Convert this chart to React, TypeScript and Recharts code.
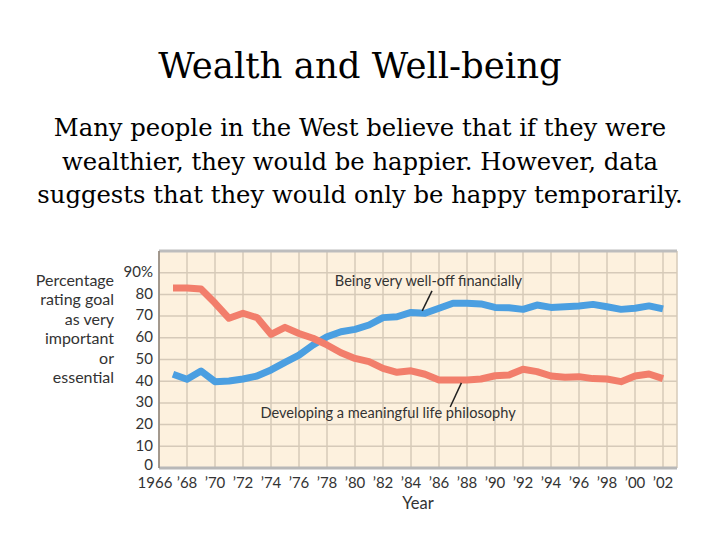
import React from 'react';
import { LineChart, Line, XAxis, YAxis, CartesianGrid, ReferenceLine } from 'recharts';

const years = [1967, 1968, 1969, 1970, 1971, 1972, 1973, 1974, 1975, 1976, 1977, 1978, 1979, 1980, 1981, 1982, 1983, 1984, 1985, 1986, 1987, 1988, 1989, 1990, 1991, 1992, 1993, 1994, 1995, 1996, 1997, 1998, 1999, 2000, 2001, 2002];
const wellOff = [43.2, 40.9, 44.7, 39.8, 40.1, 41, 42.4, 45.2, 48.7, 52, 56.7, 60.5, 62.8, 63.9, 65.9, 69.3, 69.7, 71.7, 71.3, 73.6, 75.9, 75.9, 75.6, 74, 73.8, 73.1, 75.1, 74, 74.3, 74.7, 75.4, 74.3, 73.1, 73.6, 74.7, 73.3];
const philosophy = [83, 83, 82.5, 76, 69, 71.3, 69.3, 61.6, 64.8, 62, 59.8, 56.7, 53.1, 50.5, 49, 45.9, 44.1, 44.8, 43.2, 40.6, 40.6, 40.6, 41, 42.5, 42.9, 45.5, 44.4, 42.4, 41.8, 42.1, 41.2, 41, 39.8, 42.4, 43.3, 41.2];
const xTicks = [1966, 1968, 1970, 1972, 1974, 1976, 1978, 1980, 1982, 1984, 1986, 1988, 1990, 1992, 1994, 1996, 1998, 2000, 2002];
const yTicks = [0, 10, 20, 30, 40, 50, 60, 70, 80, 90];
const yLabelLines = ['Percentage', 'rating goal', 'as very', 'important', 'or', 'essential'];
const titleText = 'Wealth and Well-being';
const bodyLines = [
  'Many people in the West believe that if they were',
  'wealthier, they would be happier. However, data',
  'suggests that they would only be happy temporarily.',
];
const wellOffLabel = 'Being very well-off financially';
const philosophyLabel = 'Developing a meaningful life philosophy';

const data = years.map((year, i) => ({ year, wellOff: wellOff[i], philosophy: philosophy[i] }));

const SANS = 'Lato, "Open Sans", sans-serif';
const SERIF = '"DejaVu Serif", "Liberation Serif", serif';

const XTick = (props: any) => {
  const { x, y, payload } = props;
  const v = payload.value as number;
  const label = v === 1966 ? '1966' : '\u2019' + String(v).slice(2);
  return (
    <text x={v === 1966 ? x - 4 : x} y={y} dy="0.71em" textAnchor="middle" fill="#333" fontSize={15} fontFamily={SANS}>
      {label}
    </text>
  );
};

const YTick = (props: any) => {
  const { x, y, payload } = props;
  const v = payload.value as number;
  const label = v === 90 ? '90%' : String(v);
  return (
    <text x={x} y={v === 0 ? y - 3 : y - 1} dy="0.355em" textAnchor="end" fill="#333" fontSize={15} fontFamily={SANS}>
      {label}
    </text>
  );
};

export default function App() {
  return (
    <div style={{ position: 'absolute', left: 0, top: 0, width: 720, height: 540, background: '#ffffff', overflow: 'hidden' }}>
      <div style={{ position: 'absolute', left: 0, top: 48, width: 720, textAlign: 'center', fontFamily: SERIF, fontSize: 35.5, lineHeight: '35.5px', color: '#000', whiteSpace: 'nowrap' }}>
        {titleText}
      </div>
      <div style={{ position: 'absolute', left: 0, top: 111, width: 720, textAlign: 'center', fontFamily: SERIF, fontSize: 24.3, lineHeight: '33.5px', color: '#000', whiteSpace: 'nowrap' }}>
        {bodyLines.map((l) => (
          <div key={l}>{l}</div>
        ))}
      </div>
      <div style={{ position: 'absolute', left: 0, top: 270, width: 114, textAlign: 'right', fontFamily: SANS, fontSize: 16, lineHeight: '19.4px', color: '#333' }}>
        {yLabelLines.map((l) => (
          <div key={l}>{l}</div>
        ))}
      </div>
      <div style={{ position: 'absolute', left: 0, top: 0 }}>
        <LineChart width={720} height={540} data={data} margin={{ top: 251, right: 43, bottom: 0, left: 0 }}>
          <CartesianGrid fill="#fdf1de" stroke="#d6cab9" strokeWidth={1.5} />
          <XAxis
            dataKey="year"
            type="number"
            domain={[1966, 2003]}
            ticks={xTicks}
            interval={0}
            height={72}
            tickLine={false}
            tickSize={0}
            tickMargin={9}
            axisLine={{ stroke: '#b8b8b8', strokeWidth: 3 }}
            tick={<XTick />}
            label={{ value: 'Year', position: 'insideTop', offset: 29, fill: '#333', fontSize: 16.5, fontFamily: SANS }}
          />
          <YAxis
            type="number"
            domain={[0, 100]}
            ticks={yTicks}
            interval={0}
            width={159}
            tickLine={false}
            tickSize={0}
            tickMargin={6}
            axisLine={{ stroke: '#8f857a', strokeWidth: 1.5 }}
            tick={<YTick />}
          />
          <ReferenceLine y={100} stroke="#bdbdbd" strokeWidth={3} />
          <Line type="linear" dataKey="wellOff" stroke="#4b9fe1" strokeWidth={7} dot={false} strokeLinejoin="round" isAnimationActive={false} />
          <Line type="linear" dataKey="philosophy" stroke="#f27e6b" strokeWidth={7} dot={false} strokeLinejoin="round" isAnimationActive={false} />
          <ReferenceLine segment={[{ x: 1985.5, y: 81.6 }, { x: 1984.8, y: 72.4 }]} stroke="#222" strokeWidth={1.5} />
          <ReferenceLine segment={[{ x: 1987.6, y: 39.2 }, { x: 1986.8, y: 28.1 }]} stroke="#222" strokeWidth={1.5} />
          <ReferenceLine
            segment={[{ x: 1978.5, y: 86.2 }, { x: 1992, y: 86.2 }]}
            stroke="none"
            label={{ value: wellOffLabel, position: 'center', fill: '#333', fontSize: 14.6, fontFamily: SANS }}
          />
          <ReferenceLine
            segment={[{ x: 1975, y: 25.3 }, { x: 1989.72, y: 25.3 }]}
            stroke="none"
            label={{ value: philosophyLabel, position: 'center', fill: '#333', fontSize: 14.6, fontFamily: SANS }}
          />
        </LineChart>
      </div>
    </div>
  );
}
